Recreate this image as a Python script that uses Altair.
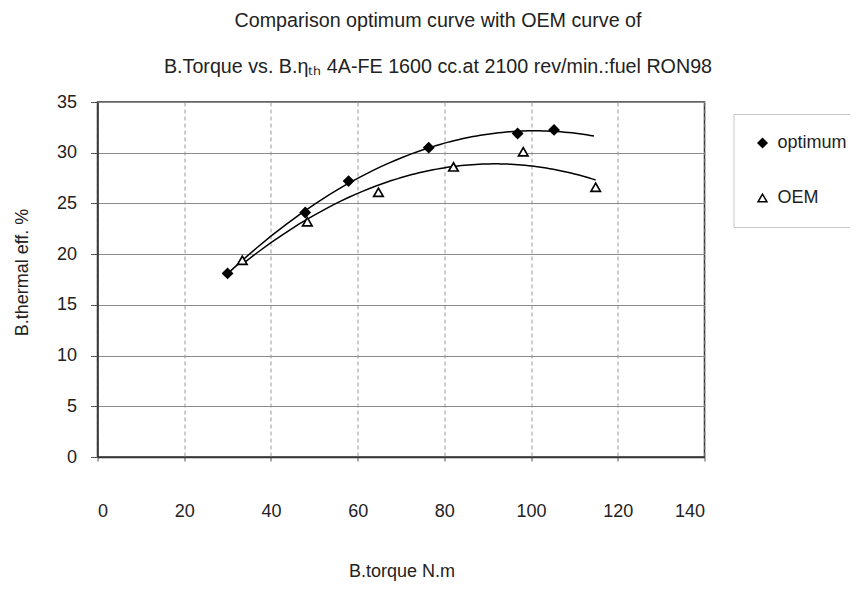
import altair as alt
import pandas as pd

# ---- data ----
series_names = ["optimum", "OEM"]
opt_torque = [30.0, 47.9, 57.9, 76.4, 96.9, 105.3]
opt_eff = [18.1, 24.1, 27.2, 30.5, 31.9, 32.25]
oem_torque = [33.4, 48.4, 64.8, 82.1, 98.2, 114.9]
oem_eff = [19.4, 23.2, 26.1, 28.6, 30.1, 26.6]
opt_trend_extent = [30.0, 114.5]
x_ticks = [0, 20, 40, 60, 80, 100, 120, 140]
y_ticks = [0, 5, 10, 15, 20, 25, 30, 35]
title_lines = [
    "Comparison optimum curve with OEM curve of",
    "B.Torque vs. B.\u03b7\u209c\u2095 4A-FE 1600 cc.at 2100 rev/min.:fuel RON98",
]
x_title = "B.torque N.m"
y_title = "B.thermal eff. %"

rows = [{"torque": t, "eff": e, "series": "optimum"} for t, e in zip(opt_torque, opt_eff)]
rows += [{"torque": t, "eff": e, "series": "OEM"} for t, e in zip(oem_torque, oem_eff)]
df = pd.DataFrame(rows)

FONT = "Liberation Sans"
TXT = "#222222"

x_enc = alt.X(
    "torque:Q",
    scale=alt.Scale(domain=[0, 140], nice=False, zero=True),
    axis=alt.Axis(
        values=x_ticks, title=x_title, grid=True, gridColor="#9a9a9a",
        gridDash=[4, 3], gridWidth=1, tickSize=4, labelPadding=41,
        titleX=304, titleY=119, titleBaseline="alphabetic", titleAnchor="start",
        titleAlign="center",
    ),
)
y_enc = alt.Y(
    "eff:Q",
    scale=alt.Scale(domain=[0, 35], nice=False),
    axis=alt.Axis(
        values=y_ticks, title=y_title, grid=True, gridColor="#8a8a8a",
        gridWidth=1, tickSize=7, labelPadding=14,
        titleX=-75.5, titleY=170, titleAngle=270, titleAlign="center",
        titleBaseline="middle", titleAnchor="start",
    ),
)

leg = alt.Legend(
    title=None, orient="none", legendX=636, legendY=12,
    padding=20, rowPadding=37, labelFontSize=18, labelFont=FONT,
    labelColor=TXT, symbolSize=80, symbolStrokeColor="black",
    symbolStrokeWidth=1.5, labelOffset=6, labelLimit=300,
    strokeColor="#c8c8c8", fillColor="white",
    labelExpr="datum.label == 'OEM' ? '\u2007\u2007OEM' : datum.label",
)

base = alt.Chart(df)

points = base.mark_point(strokeWidth=1.7, opacity=1, size=90).encode(
    x=x_enc,
    y=y_enc,
    shape=alt.Shape("series:N", scale=alt.Scale(domain=series_names, range=["diamond", "triangle-up"]), legend=leg),
    fill=alt.Fill("series:N", scale=alt.Scale(domain=series_names, range=["black", "white"]), legend=leg),
    stroke=alt.Stroke("series:N", scale=alt.Scale(domain=series_names, range=["black", "black"]), legend=leg),
)

opt_line = (
    base.transform_filter(alt.datum.series == "optimum")
    .transform_regression("torque", "eff", method="poly", order=2, extent=opt_trend_extent)
    .mark_line(color="black", strokeWidth=1.5)
    .encode(x=x_enc, y=y_enc)
)
oem_line = (
    base.transform_filter(alt.datum.series == "OEM")
    .transform_regression("torque", "eff", method="poly", order=2)
    .mark_line(color="black", strokeWidth=1.5)
    .encode(x=x_enc, y=y_enc)
)

chart = (
    alt.layer(opt_line, oem_line, points)
    .properties(
        width=607,
        height=355,
        autosize=alt.AutoSizeParams(type="none"),
        padding={"left": 89.5, "top": 94, "right": 145.5, "bottom": 125},
        title=alt.TitleParams(
            text=title_lines, font=FONT, fontSize=19.7, fontWeight="normal",
            color=TXT, lineHeight=46, anchor="middle", frame="group",
            dx=37, offset=-4, baseline="bottom",
        ),
    )
    .configure_view(stroke="#333333", strokeWidth=1.5)
    .configure_axis(
        labelFont=FONT, titleFont=FONT, labelFontSize=18, titleFontSize=18,
        titleFontWeight="normal", labelColor=TXT, titleColor=TXT,
        domainColor="#333333", domainWidth=1.5, tickColor="#555555",
    )
)

chart.save("out.html", embed_options={"renderer": "svg", "actions": False})
